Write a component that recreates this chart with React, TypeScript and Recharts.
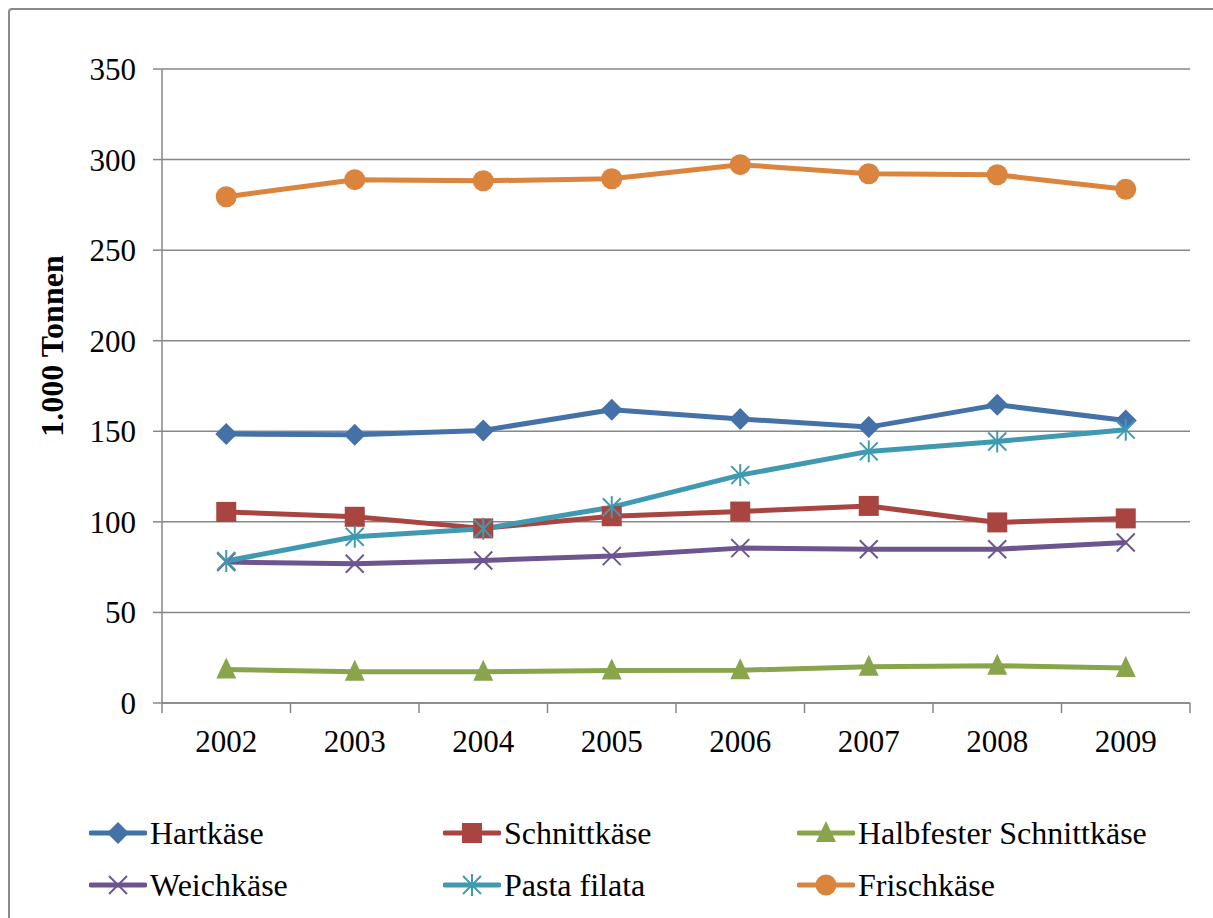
import React from "react"
import { LineChart, Line, XAxis, YAxis, CartesianGrid, Legend, Label } from "recharts"

// values (1.000 Tonnen)
const years = ["2002", "2003", "2004", "2005", "2006", "2007", "2008", "2009"]
const hartkaese = [148.5, 148.1, 150.5, 161.9, 156.8, 152.3, 164.6, 156.0]
const schnittkaese = [105.5, 102.8, 96.4, 103.1, 105.7, 108.8, 99.7, 101.9]
const halbfester = [18.5, 17.3, 17.3, 18.0, 18.1, 20.0, 20.6, 19.3]
const weichkaese = [77.8, 76.9, 78.7, 81.1, 85.5, 84.9, 84.9, 88.6]
const pastaFilata = [78.4, 91.8, 96.2, 108.1, 125.8, 138.9, 144.4, 150.9]
const frischkaese = [279.5, 288.9, 288.3, 289.4, 297.2, 292.2, 291.6, 283.6]
const yTicks = [0, 50, 100, 150, 200, 250, 300, 350]

const series = [
  { key: "Hartkäse", values: hartkaese, color: "#4571A9", shape: "diamond" },
  { key: "Schnittkäse", values: schnittkaese, color: "#A94541", shape: "square" },
  { key: "Halbfester Schnittkäse", values: halbfester, color: "#89A54C", shape: "triangle" },
  { key: "Weichkäse", values: weichkaese, color: "#6D5590", shape: "x" },
  { key: "Pasta filata", values: pastaFilata, color: "#3F9AB1", shape: "star" },
  { key: "Frischkäse", values: frischkaese, color: "#DB843D", shape: "circle" },
]

// one row per year, x is the middle of the category band
const data = years.map((year, i) => {
  const row: any = { x: i + 0.5, year }
  series.forEach((s) => (row[s.key] = s.values[i]))
  return row
})

const FONT = '"Liberation Serif", "Times New Roman", serif'
const GRID = "#878787"

function Marker({ cx, cy, shape, color }: any) {
  if (cx == null || cy == null) return null
  switch (shape) {
    case "diamond":
      return <polygon points={`${cx},${cy - 11} ${cx + 11},${cy} ${cx},${cy + 11} ${cx - 11},${cy}`} fill={color} />
    case "square":
      return <rect x={cx - 10} y={cy - 10} width={20} height={20} fill={color} />
    case "triangle":
      return <polygon points={`${cx},${cy - 12} ${cx + 10},${cy + 9} ${cx - 10},${cy + 9}`} fill={color} />
    case "x":
      return (
        <g stroke={color} strokeWidth={2}>
          <line x1={cx - 9} y1={cy - 9} x2={cx + 9} y2={cy + 9} />
          <line x1={cx - 9} y1={cy + 9} x2={cx + 9} y2={cy - 9} />
        </g>
      )
    case "star":
      return (
        <g stroke={color} strokeWidth={2}>
          <line x1={cx - 9} y1={cy - 9} x2={cx + 9} y2={cy + 9} />
          <line x1={cx - 9} y1={cy + 9} x2={cx + 9} y2={cy - 9} />
          <line x1={cx} y1={cy - 11} x2={cx} y2={cy + 11} />
        </g>
      )
    default:
      return <circle cx={cx} cy={cy} r={10.5} fill={color} />
  }
}

const renderLegend = () => (
  <div
    style={{
      display: "grid",
      gridTemplateColumns: "354px 354px 354px",
      rowGap: 22,
      paddingLeft: 89,
      fontFamily: FONT,
      fontSize: 32,
      color: "#000",
    }}
  >
    {series.map((s) => (
      <div key={s.key} style={{ display: "flex", alignItems: "center", height: 30 }}>
        <svg width={58} height={30} style={{ flex: "none" }}>
          <line x1={2} y1={15} x2={56} y2={15} stroke={s.color} strokeWidth={5} strokeLinecap="round" />
          <Marker cx={29} cy={15} shape={s.shape} color={s.color} />
        </svg>
        <span style={{ marginLeft: 3, whiteSpace: "nowrap", lineHeight: "30px" }}>{s.key}</span>
      </div>
    ))}
  </div>
)

export default function App() {
  return (
    <div style={{ position: "absolute", left: 0, top: 0, width: 1213, height: 918, overflow: "hidden", background: "#fff" }}>
      <div
        style={{
          position: "absolute",
          left: 8,
          top: 8,
          width: 1300,
          height: 1000,
          border: "2px solid #8a8a8a",
          borderRadius: 4,
        }}
      />
      <div style={{ position: "absolute", left: 0, top: 0 }}>
        <LineChart width={1213} height={918} data={data} margin={{ top: 69, right: 23, bottom: 145, left: 82 }}>
          <CartesianGrid horizontal vertical={false} stroke={GRID} strokeWidth={1.5} />
          <XAxis
            dataKey="x"
            type="number"
            domain={[0, 8]}
            allowDataOverflow
            ticks={[0, 1, 2, 3, 4, 5, 6, 7, 8]}
            tickFormatter={() => ""}
            tickSize={10}
            height={10}
            stroke={GRID}
            strokeWidth={1.5}
            interval={0}
          />
          <XAxis
            xAxisId="yr"
            dataKey="x"
            type="number"
            domain={[0, 8]}
            allowDataOverflow
            ticks={[0.5, 1.5, 2.5, 3.5, 4.5, 5.5, 6.5, 7.5]}
            tickFormatter={(v: number) => years[Math.floor(v)]}
            axisLine={false}
            tickLine={false}
            tickSize={0}
            tickMargin={17}
            height={60}
            interval={0}
            tick={{ fill: "#000", fontSize: 31, fontFamily: FONT }}
          />
          <YAxis
            domain={[0, 350]}
            ticks={yTicks}
            width={80}
            tickSize={9}
            tickMargin={17}
            stroke={GRID}
            strokeWidth={1.5}
            interval={0}
            tick={{ fill: "#000", fontSize: 31, fontFamily: FONT }}
          >
            <Label
              content={() => (
                <text
                  x={63}
                  y={346}
                  transform="rotate(-90 63 346)"
                  textAnchor="middle"
                  fontFamily={FONT}
                  fontSize={32}
                  fontWeight="bold"
                  fill="#000"
                >
                  1.000 Tonnen
                </text>
              )}
            />
          </YAxis>
          <Legend
            content={renderLegend}
            layout="horizontal"
            verticalAlign="middle"
            align="center"
            wrapperStyle={{ top: 818, left: 0, width: 1213 }}
          />
          {series.map((s) => (
            <Line
              key={s.key}
              dataKey={s.key}
              name={s.key}
              stroke={s.color}
              strokeWidth={5}
              strokeLinejoin="round"
              isAnimationActive={false}
              dot={(p: any) => <Marker key={`${s.key}-${p.index}`} cx={p.cx} cy={p.cy} shape={s.shape} color={s.color} />}
              activeDot={false}
            />
          ))}
        </LineChart>
      </div>
    </div>
  )
}
